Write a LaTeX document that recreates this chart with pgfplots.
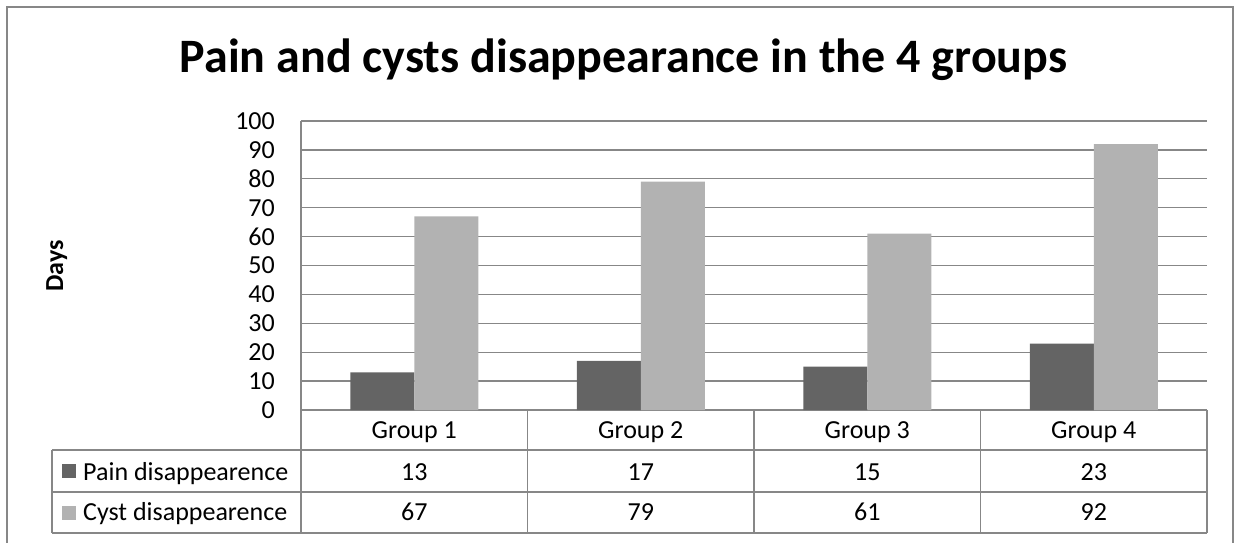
\documentclass[border=0pt]{standalone}
\usepackage{fontspec}
\setmainfont{Carlito}
\usepackage{pgfplots}
\usepackage{pgfplotstable}
\pgfplotsset{compat=1.18}

\definecolor{painc}{HTML}{646464}
\definecolor{cystc}{HTML}{B2B2B2}
\definecolor{linec}{HTML}{878787}

\pgfplotstableread{
grp pain cyst
0 13 67
1 17 79
2 15 61
3 23 92
}\datatab

\begin{document}
\begin{tikzpicture}[x=1pt,y=1pt]
\useasboundingbox (0,0) rectangle (1235,542);
% outer chart frame (bottom edge cut off)
\draw[linec, line width=2pt] (7,-20) -- (7,535) -- (1233,535) -- (1233,-20);
\node[font=\fontsize{48}{56}\selectfont\bfseries, inner sep=0pt, anchor=base] at (623.5,469)
  {Pain and cysts disappearance in the 4 groups};
\node[rotate=90, font=\fontsize{26}{30}\selectfont\bfseries, inner sep=0pt, anchor=base] at (63,276) {Days};

\begin{axis}[
  at={(301pt,132pt)}, anchor=south west,
  scale only axis, width=906pt, height=289pt,
  ybar=0pt, bar width=64pt,
  xmin=-0.5, xmax=3.5, ymin=0, ymax=100,
  ytick={0,10,...,100}, xtick=\empty,
  axis lines*=left,
  axis line style={linec, line width=1.3pt},
  ymajorgrids, grid style={linec, line width=1.3pt},
  major tick length=0pt,
  tick label style={font=\fontsize{26}{30}\selectfont},
  yticklabel style={inner sep=0pt, xshift=-26pt},
  /pgf/number format/assume math mode=true,
]
\addplot[fill=painc, draw=none] table[x=grp, y=pain]{\datatab};
\addplot[fill=cystc, draw=none] table[x=grp, y=cyst]{\datatab};
\end{axis}

% data table under the axis
\draw[linec, line width=1.3pt]
  (52,92) -- (1207,92) (52,50) -- (1207,50) (52,9) -- (1207,9)
  (52,92) -- (52,9);
\foreach \i in {0,...,4}
  \draw[linec, line width=1.3pt] ({301+226.5*\i},132) -- ({301+226.5*\i},9);
\tikzset{cell/.style={font=\fontsize{26}{30}\selectfont, inner sep=0pt, anchor=base}}
\foreach \i in {1,...,4}
  \node[cell] at ({301+226.5*(\i-0.5)},104) {Group \i};
\foreach \r in {0,...,3} {
  \pgfplotstablegetelem{\r}{pain}\of\datatab
  \node[cell] at ({301+226.5*(\r+0.5)},62) {\pgfplotsretval};
  \pgfplotstablegetelem{\r}{cyst}\of\datatab
  \node[cell] at ({301+226.5*(\r+0.5)},22) {\pgfplotsretval};
}
\fill[painc] (62,64) rectangle (76,78);
\fill[cystc] (62,22) rectangle (76,36);
\node[cell, anchor=base west] at (83,62) {Pain disappearence};
\node[cell, anchor=base west] at (83,22) {Cyst disappearence};
\end{tikzpicture}
\end{document}
